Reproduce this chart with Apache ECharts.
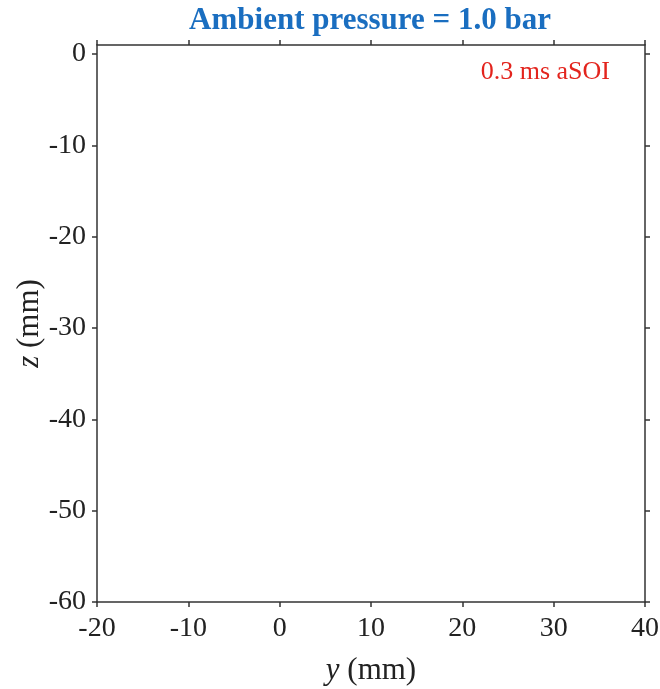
<!DOCTYPE html>
<html>
<head>
<meta charset="utf-8">
<script src="https://cdn.jsdelivr.net/npm/echarts@6/dist/echarts.min.js"></script>
<style>
  html, body { margin: 0; padding: 0; background: #fff; }
  #chart { width: 660px; height: 689px; }
</style>
</head>
<body>
<div id="chart"></div>
<script>
// axis ranges and tick values
const xRange = [-20, 40]
const yRange = [-60, 1]
const xTicks = [-20, -10, 0, 10, 20, 30, 40]
const yTicks = [-60, -50, -40, -30, -20, -10, 0]
// no measured points shown in this frame
const sprayPoints = []

const titleText = 'Ambient pressure = 1.0 bar'
const timeText = '0.3 ms aSOI'

const serif = '"Liberation Serif", "Times New Roman", serif'
const axisColor = '#333'
const textColor = '#222'

const chart = echarts.init(document.getElementById('chart'))

const baseAxis = {
  type: 'value',
  axisLine: { show: true, onZero: false, lineStyle: { color: axisColor, width: 1.5 } },
  axisTick: { show: true, inside: false, length: 5, lineStyle: { color: axisColor, width: 1.5 } },
  splitLine: { show: false }
}

const nameStyle = {
  fontFamily: serif, fontSize: 31, color: textColor,
  rich: { i: { fontFamily: serif, fontSize: 31, fontStyle: 'italic', color: textColor } }
}

chart.setOption({
  animation: false,
  grid: { left: 97, right: 15, top: 45, bottom: 87, containLabel: false, outerBoundsMode: 'none' },
  graphic: [
    {
      type: 'text',
      style: {
        x: 370, y: 21, text: titleText, textAlign: 'center', textVerticalAlign: 'middle',
        fontFamily: serif, fontWeight: 'bold', fontSize: 31, fill: '#1a6ec0'
      }
    },
    {
      type: 'text',
      style: {
        x: 610, y: 72, text: timeText, textAlign: 'right', textVerticalAlign: 'middle',
        fontFamily: serif, fontSize: 26, fill: '#e3241d'
      }
    }
  ],
  xAxis: [
    Object.assign({}, baseAxis, {
      position: 'bottom',
      min: xRange[0], max: xRange[1], interval: 10,
      axisTick: Object.assign({}, baseAxis.axisTick, { customValues: xTicks }),
      axisLabel: { customValues: xTicks, margin: 13, fontFamily: serif, fontSize: 28, color: textColor },
      name: '{i|y} (mm)',
      nameLocation: 'middle',
      nameGap: 53,
      nameMoveOverlap: false,
      nameTextStyle: nameStyle
    }),
    Object.assign({}, baseAxis, {
      position: 'top',
      min: xRange[0], max: xRange[1], interval: 10,
      axisTick: Object.assign({}, baseAxis.axisTick, { customValues: xTicks }),
      axisLabel: { show: false }
    })
  ],
  yAxis: [
    Object.assign({}, baseAxis, {
      position: 'left',
      min: yRange[0], max: yRange[1], interval: 10,
      axisTick: Object.assign({}, baseAxis.axisTick, { customValues: yTicks }),
      axisLabel: { customValues: yTicks, margin: 11, fontFamily: serif, fontSize: 28, color: textColor },
      name: '{i|z} (mm)',
      nameLocation: 'middle',
      nameGap: 52,
      nameMoveOverlap: false,
      nameTextStyle: nameStyle
    }),
    Object.assign({}, baseAxis, {
      position: 'right',
      min: yRange[0], max: yRange[1], interval: 10,
      axisTick: Object.assign({}, baseAxis.axisTick, { customValues: yTicks }),
      axisLabel: { show: false }
    })
  ],
  series: [
    { type: 'scatter', xAxisIndex: 0, yAxisIndex: 0, data: sprayPoints }
  ]
})
</script>
</body>
</html>
